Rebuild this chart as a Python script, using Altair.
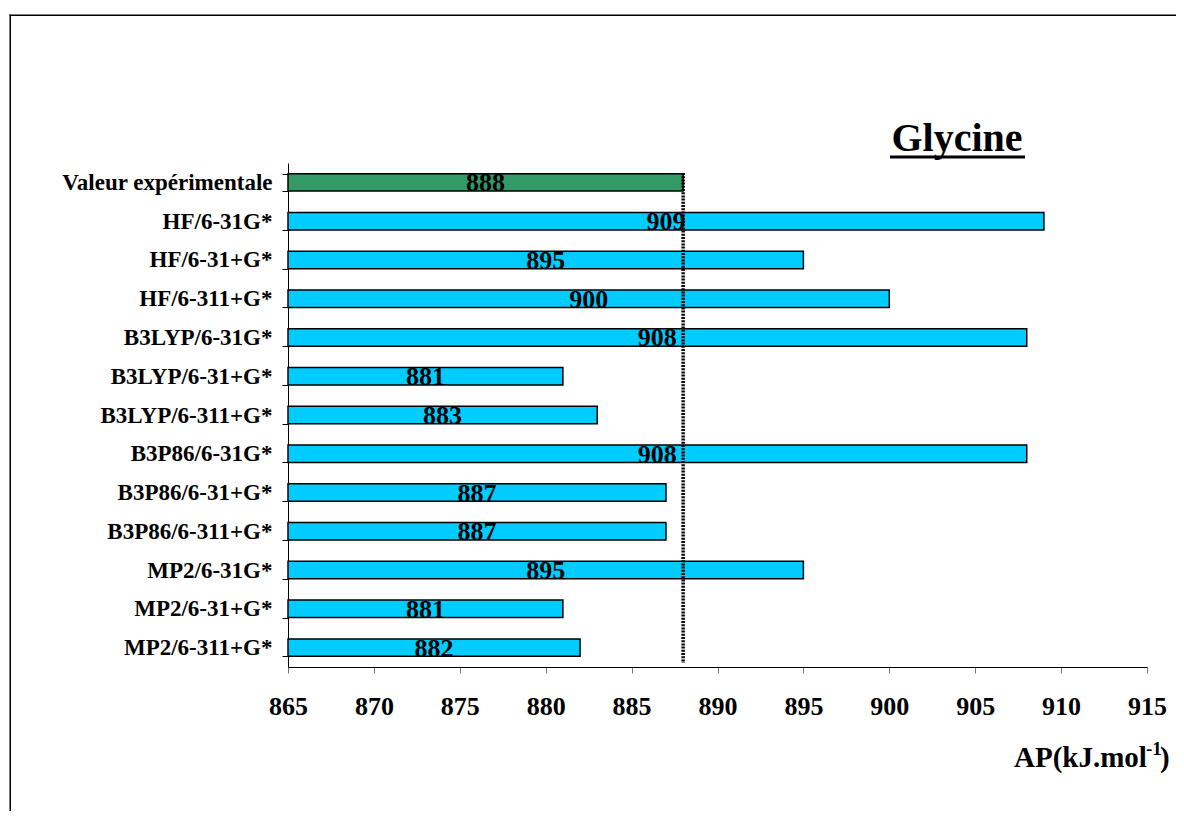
import altair as alt
import pandas as pd

methods = ["Valeur expérimentale", "HF/6-31G*", "HF/6-31+G*", "HF/6-311+G*",
           "B3LYP/6-31G*", "B3LYP/6-31+G*", "B3LYP/6-311+G*",
           "B3P86/6-31G*", "B3P86/6-31+G*", "B3P86/6-311+G*",
           "MP2/6-31G*", "MP2/6-31+G*", "MP2/6-311+G*"]
values = [888, 909, 895, 900, 908, 881, 883, 908, 887, 887, 895, 881, 882]
kinds = ["exp"] + ["calc"] * 12
x_ticks = [865, 870, 875, 880, 885, 890, 895, 900, 905, 910, 915]
x_min, x_max = 865, 915
exp_value = 888

df = pd.DataFrame({"method": methods, "value": values, "kind": kinds})

FONT = "Times New Roman, Liberation Serif, serif"
W, H = 859, 504

xscale = alt.Scale(domain=[x_min, x_max], nice=False, zero=False)
yscale = alt.Scale(domain=methods, paddingInner=0.55, paddingOuter=0.275)

base = alt.Chart(df)

bars = base.mark_bar(stroke="black", strokeWidth=1.5).encode(
    y=alt.Y("method:N", scale=yscale, sort=methods,
            axis=alt.Axis(title=None, tickBand="extent", tickSize=6,
                          labelFont=FONT, labelFontWeight="bold", labelFontSize=23,
                          labelColor="black", labelPadding=10, domainColor="black",
                          tickColor="black", labelLimit=400, grid=False)),
    x=alt.X("x0:Q", scale=xscale,
            axis=alt.Axis(title=None, values=x_ticks, tickSize=6, labelFont=FONT,
                          labelFontWeight="bold", labelFontSize=26, labelColor="black",
                          labelPadding=20, labelFlush=False, domainColor="black",
                          tickColor="#777777", grid=False)),
    x2="value:Q",
    color=alt.Color("kind:N", scale=alt.Scale(domain=["exp", "calc"],
                                              range=["#339966", "#00CCFF"]), legend=None),
).transform_calculate(x0=str(x_min))

labels = base.mark_text(font=FONT, fontWeight="bold", fontSize=26, color="black",
                        baseline="middle", dy=1).encode(
    y=alt.Y("method:N", scale=yscale, sort=methods),
    x=alt.X("mid:Q", scale=xscale),
    text=alt.Text("value:Q"),
).transform_calculate(mid=f"({x_min} + datum.value) / 2")

ref = alt.Chart(pd.DataFrame({"v": [exp_value]})).mark_rule(
    color="black", strokeWidth=3.5, strokeDash=[2, 1.2]).encode(
    x=alt.X("v:Q", scale=xscale), y=alt.value(10), y2=alt.value(H - 4))

one = alt.Data(values=[{}])
frame_left = alt.Chart(one).mark_rect(color="black", strokeWidth=0).encode(
    x=alt.value(-278.5), x2=alt.value(-277), y=alt.value(-148.5), y2=alt.value(648))
frame_top = alt.Chart(one).mark_rect(color="black", strokeWidth=0).encode(
    x=alt.value(-278.5), x2=alt.value(888), y=alt.value(-148.5), y2=alt.value(-147))

title = alt.Chart(one).mark_text(text="Glycine", font=FONT, fontWeight="bold",
                                 fontSize=40, align="center", baseline="alphabetic").encode(
    x=alt.value(669), y=alt.value(-12))
underline = alt.Chart(one).mark_rule(color="black", strokeWidth=3).encode(
    x=alt.value(602), x2=alt.value(737), y=alt.value(-6))

ax1 = alt.Chart(one).mark_text(text="AP(kJ.mol", font=FONT, fontWeight="bold",
                               fontSize=29, align="left", baseline="alphabetic").encode(
    x=alt.value(726), y=alt.value(604))
ax2 = alt.Chart(one).mark_text(text="-1", font=FONT, fontWeight="bold",
                               fontSize=19, align="left", baseline="alphabetic").encode(
    x=alt.value(858), y=alt.value(592))
ax3 = alt.Chart(one).mark_text(text=")", font=FONT, fontWeight="bold",
                               fontSize=29, align="left", baseline="alphabetic").encode(
    x=alt.value(872), y=alt.value(604))

chart = alt.layer(frame_left, frame_top, bars, labels, ref, title, underline,
                  ax1, ax2, ax3).properties(
    width=W, height=H,
    background="white",
    autosize=alt.AutoSizeParams(type="none"),
    padding={"left": 280, "top": 155, "right": 29, "bottom": 144},
).configure_view(stroke="transparent", strokeWidth=0)

chart.save("out.html", embed_options={"renderer": "svg", "actions": False})
